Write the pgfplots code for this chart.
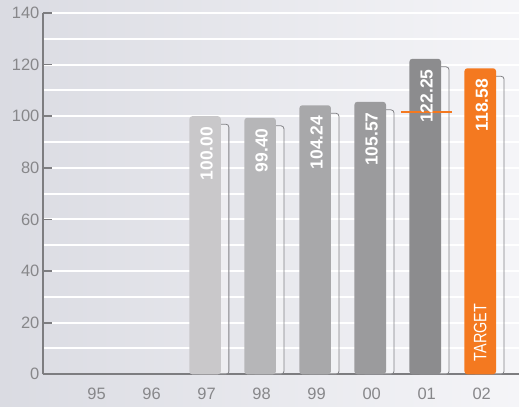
\documentclass[border=0pt]{standalone}
\usepackage{pgfplots}
\pgfplotsset{compat=1.18}
\usepackage{fontspec}
\setmainfont{Liberation Sans}
\definecolor{bgL}{RGB}{218,219,226}
\definecolor{bgR}{RGB}{245,245,248}
\definecolor{axgray}{RGB}{125,125,128}
\definecolor{lblgray}{RGB}{135,135,138}
\definecolor{shgray}{RGB}{130,130,134}
\definecolor{c97}{RGB}{201,200,202}
\definecolor{c98}{RGB}{182,182,184}
\definecolor{c99}{RGB}{168,168,170}
\definecolor{c00}{RGB}{155,155,157}
\definecolor{c01}{RGB}{140,140,142}
\definecolor{corange}{RGB}{244,121,32}
\begin{document}
\begin{tikzpicture}
\fill[left color=bgL, right color=bgR] (-43pt,-32pt) rectangle (477pt,375pt);
\begin{axis}[
  at={(0,0)}, anchor=south west,
  scale only axis, width=477pt, height=362pt,
  xmin=-0.974, xmax=7.677, ymin=0, ymax=140,
  axis x line*=bottom, axis y line*=left,
  x axis line style={-, line width=2pt, draw=axgray},
  y axis line style={-, line width=2.6pt, draw=axgray},
  xtick={0,...,7},
  xticklabels={95,96,97,98,99,00,01,02},
  xtick style={draw=none},
  ytick={0,20,...,140},
  minor ytick={10,30,...,130},
  ymajorgrids, yminorgrids,
  major grid style={white, line width=2pt},
  minor grid style={white, line width=2pt},
  tick align=inside,
  major tick length=9pt, minor tick length=0pt,
  ytick style={axgray, line width=1.8pt},
  /pgf/number format/assume math mode=true,
  tick label style={font=\fontsize{16.5}{16.5}\selectfont, text=lblgray},
  xticklabel style={yshift=-10pt},
  every node near coord/.style={rotate=90, anchor=east, inner sep=0pt, text=white, font=\fontsize{17.5}{17.5}\selectfont\bfseries},
  nodes near coords={\pgfmathprintnumber[fixed,fixed zerofill,precision=2]{\pgfplotspointmeta}\hspace*{10.5pt}},
]
% offset outline shadows
\addplot[ybar, bar width=31.7pt, bar shift=6.5pt, draw=shgray, line width=0.8pt, fill=white, fill opacity=0.35, rounded corners=3pt, nodes near coords={}] coordinates {(2,96.9) (3,96.3) (4,101.14) (5,102.47) (6,119.15) (7,115.48)};
% bars
\addplot[ybar, bar width=31.7pt, bar shift=-1.5pt, draw=none, fill=c97, rounded corners=3pt] coordinates {(2,100.00)};
\addplot[ybar, bar width=31.7pt, bar shift=-1.5pt, draw=none, fill=c98, rounded corners=3pt] coordinates {(3,99.40)};
\addplot[ybar, bar width=31.7pt, bar shift=-1.5pt, draw=none, fill=c99, rounded corners=3pt] coordinates {(4,104.24)};
\addplot[ybar, bar width=31.7pt, bar shift=-1.5pt, draw=none, fill=c00, rounded corners=3pt] coordinates {(5,105.57)};
\addplot[ybar, bar width=31.7pt, bar shift=-1.5pt, draw=none, fill=c01, rounded corners=3pt] coordinates {(6,122.25)};
\addplot[ybar, bar width=31.7pt, bar shift=-1.5pt, draw=none, fill=corange, rounded corners=3pt] coordinates {(7,118.58)};
% target marker on 01
\addplot[corange, line width=2pt, mark=none, nodes near coords={}] coordinates {(5.537,101.6) (6.462,101.6)};
\node[rotate=90, anchor=west, inner sep=0pt, text=white, font=\fontsize{18}{18}\selectfont] at (axis cs:6.973,0) {\hspace*{13pt}\scalebox{0.8}[1]{TARGET}};
\end{axis}
\end{tikzpicture}
\end{document}
